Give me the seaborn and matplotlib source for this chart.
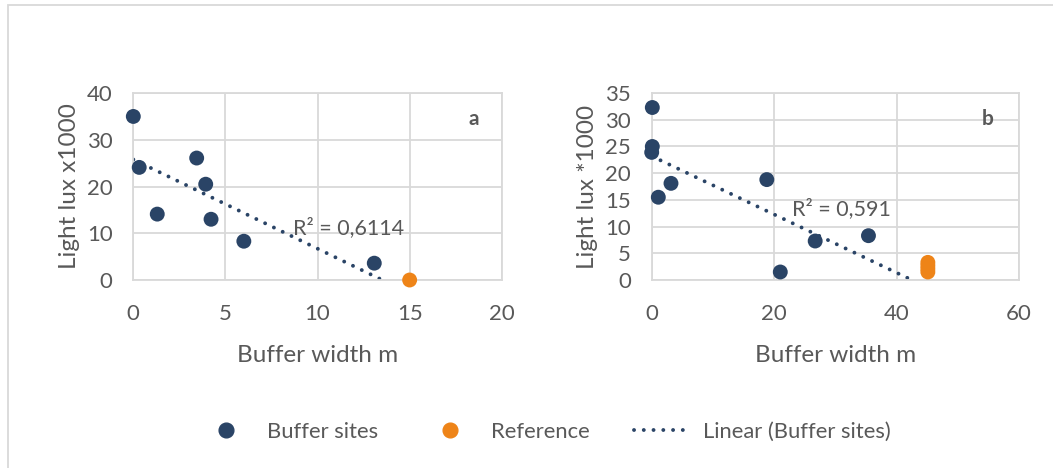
import numpy as np
import pandas as pd
import matplotlib
matplotlib.use("Agg")
import matplotlib.pyplot as plt
import seaborn as sns
from matplotlib.lines import Line2D
from matplotlib.patches import Rectangle

# panel a
a_buffer_x = [0.0, 0.32, 1.3, 3.44, 3.93, 4.22, 6.0, 13.08]
a_buffer_y = [35.0, 24.1, 14.1, 26.1, 20.5, 13.0, 8.3, 3.6]
a_ref_x = [15.0]
a_ref_y = [0.0]

# panel b
b_buffer_x = [0.1, 0.1, 0.0, 1.08, 3.15, 18.8, 21.0, 26.7, 35.4]
b_buffer_y = [32.3, 25.0, 23.9, 15.5, 18.1, 18.8, 1.5, 7.3, 8.3]
b_ref_x = [45.1, 45.1, 45.1, 45.1]
b_ref_y = [1.5, 2.1, 2.7, 3.3]

r2_labels = ["R² = 0,6114", "R² = 0,591"]
panel_tags = ["a", "b"]
y_labels = ["Light lux x1000", "Light lux *1000"]
x_label = "Buffer width m"
legend_labels = ["Buffer sites", "Reference", "Linear (Buffer sites)"]

NAVY = "#2a4466"
ORANGE = "#ee8418"
GRID = "#d9d9d9"
TXT = "#595959"
DOTS = (0, (0.01, 2.5))

sns.set_theme(style="white")
plt.rcParams["font.family"] = ["Lato", "DejaVu Sans"]

fig = plt.figure(figsize=(10.53, 4.68), dpi=100)
ax_a = fig.add_axes([0.1266, 0.4017, 0.3499, 0.3994])
ax_b = fig.add_axes([0.6189, 0.4017, 0.3489, 0.3994])

# outer chart frame (cut off at right and bottom like the screenshot)
fig.patches.append(Rectangle((8 / 1053, -0.1), 1.2, 1 - 5 / 468 + 0.1,
                             transform=fig.transFigure, fill=False,
                             edgecolor=GRID, lw=1.3))

setups = [
    (ax_a, a_buffer_x, a_buffer_y, a_ref_x, a_ref_y, (0, 20), 5, (0, 40), 10,
     (8.68, 11.1), (18.46, 34.5)),
    (ax_b, b_buffer_x, b_buffer_y, b_ref_x, b_ref_y, (0, 60), 20, (0, 35), 5,
     (22.9, 13.3), (54.8, 30.2)),
]

for i, (ax, bx, by, rx, ry, xl, xs, yl, ys, r2pos, tagpos) in enumerate(setups):
    df_buf = pd.DataFrame({"x": bx, "y": by})
    df_ref = pd.DataFrame({"x": rx, "y": ry})
    ax.set_xlim(*xl)
    ax.set_ylim(*yl)
    ax.set_xticks(np.arange(xl[0], xl[1] + xs, xs))
    ax.set_yticks(np.arange(yl[0], yl[1] + ys, ys))
    ax.grid(True, color=GRID, lw=1.3)
    ax.set_axisbelow(True)
    for sp in ax.spines.values():
        sp.set_color(GRID)
        sp.set_linewidth(1.3)

    # trendline over the axis range, clipped at zero like Excel
    sns.regplot(data=df_buf, x="x", y="y", ax=ax, scatter=False, ci=None,
                truncate=False, color=NAVY,
                line_kws=dict(lw=2.8, linestyle=DOTS, dash_capstyle="round"))
    ax.set_xlim(*xl)
    ax.set_ylim(*yl)

    sns.scatterplot(data=df_buf, x="x", y="y", ax=ax, color=NAVY, s=115,
                    edgecolor="none", clip_on=False, zorder=4)
    sns.scatterplot(data=df_ref, x="x", y="y", ax=ax, color=ORANGE, s=115,
                    edgecolor="none", clip_on=False, zorder=4)

    ax.text(r2pos[0], r2pos[1], r2_labels[i], ha="left", va="center",
            fontsize=15.5, color=TXT)
    ax.text(tagpos[0], tagpos[1], panel_tags[i], ha="center", va="center",
            fontsize=15, color=TXT, fontweight="bold")

    ax.tick_params(axis="both", length=0, labelsize=16, labelcolor=TXT)
    ax.tick_params(axis="x", pad=17)
    ax.tick_params(axis="y", pad=15)
    ax.set_xlabel(x_label, fontsize=17.5, color=TXT)
    ax.set_ylabel(y_labels[i], fontsize=17.5, color=TXT)
    ax.xaxis.set_label_coords(0.5, -0.35)
    ax.yaxis.set_label_coords(-0.145, 0.5)

handles = [
    Line2D([], [], marker="o", ls="none", color=NAVY, markersize=10.6),
    Line2D([], [], marker="o", ls="none", color=ORANGE, markersize=10.6),
    Line2D([], [], color=NAVY, lw=2.8, linestyle=DOTS, dash_capstyle="round"),
]
leg = fig.legend(handles, legend_labels, loc="center", ncol=3, frameon=False,
                 bbox_to_anchor=(544 / 1053, 1 - 432 / 468), fontsize=15.8,
                 handlelength=2.6, handletextpad=0.55, columnspacing=2.0)
for t in leg.get_texts():
    t.set_color(TXT)

fig.savefig("out.png", dpi=100)
